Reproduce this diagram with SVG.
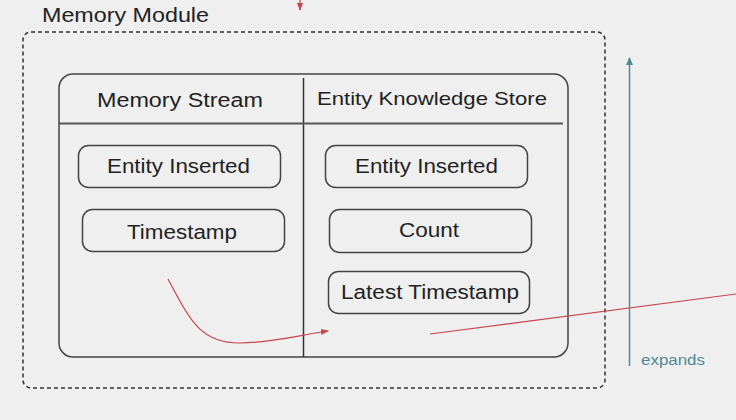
<svg xmlns="http://www.w3.org/2000/svg" width="736" height="420" viewBox="0 0 736 420">
<defs>
<style>
.t{font-family:"Liberation Sans",Arial,sans-serif;fill:#222;font-size:20px;}
.box{fill:none;stroke:#444;stroke-width:1.5;}
.red{fill:none;stroke:#c8464b;stroke-width:1.2;}
</style>
<marker id="ar" markerWidth="8" markerHeight="8" refX="7" refY="4" orient="auto" markerUnits="userSpaceOnUse">
<path d="M0,1 L8,4 L0,7 Z" fill="#c8464b"/>
</marker>
<marker id="at" markerWidth="8" markerHeight="10" refX="7" refY="5" orient="auto" markerUnits="userSpaceOnUse">
<path d="M0,1.5 L8,5 L0,8.5 Z" fill="#4f8a96"/>
</marker>
</defs>
<rect width="736" height="420" fill="#efefef"/>
<g id="module">
<text class="t" x="42" y="22" textLength="167" lengthAdjust="spacingAndGlyphs">Memory Module</text>
<rect x="23" y="32" width="582" height="356" rx="8" fill="none" stroke="#333" stroke-width="1.5" stroke-dasharray="4,3"/>
</g>
<g id="table">
<rect class="box" x="59" y="74" width="509" height="283" rx="14" stroke-width="2"/>
<line x1="303.5" y1="78" x2="303.5" y2="357" stroke="#333" stroke-width="1.5"/>
<line x1="59" y1="123.5" x2="563" y2="123.5" stroke="#555" stroke-width="2"/>
<text class="t" x="97" y="107" textLength="166" lengthAdjust="spacingAndGlyphs">Memory Stream</text>
<text class="t" x="317" y="105" style="font-size:19px" textLength="230" lengthAdjust="spacingAndGlyphs">Entity Knowledge Store</text>
</g>
<g id="ms-entity"><rect class="box" x="78.5" y="145.5" width="202" height="42" rx="10"/><text class="t" x="107" y="173" textLength="143" lengthAdjust="spacingAndGlyphs">Entity Inserted</text></g>
<g id="ms-timestamp"><rect class="box" x="82.5" y="209.5" width="202" height="42" rx="10"/><text class="t" x="127" y="239" textLength="110" lengthAdjust="spacingAndGlyphs">Timestamp</text></g>
<g id="eks-entity"><rect class="box" x="325.5" y="145.5" width="202" height="42" rx="10"/><text class="t" x="355" y="173" textLength="143" lengthAdjust="spacingAndGlyphs">Entity Inserted</text></g>
<g id="eks-count"><rect class="box" x="329.5" y="209.5" width="202" height="43" rx="10"/><text class="t" x="399" y="237" textLength="60" lengthAdjust="spacingAndGlyphs">Count</text></g>
<g id="eks-latest"><rect class="box" x="328.5" y="271.5" width="201" height="42" rx="10"/><text class="t" x="341" y="299" textLength="178" lengthAdjust="spacingAndGlyphs">Latest Timestamp</text></g>
<g id="connectors">
<path class="red" d="M168,279 C190,320 200,343 240,343 C270,343 300,335 328,331" marker-end="url(#ar)"/>
<line class="red" x1="430" y1="334" x2="736" y2="294"/>
<line class="red" x1="300" y1="0" x2="300" y2="10" marker-end="url(#ar)"/>
<line x1="629.5" y1="366" x2="629.5" y2="58" stroke="#4f8a96" stroke-width="1.5" marker-end="url(#at)"/>
<text x="641" y="365" font-size="14" fill="#4f8a96" font-family="Liberation Sans,Arial,sans-serif" textLength="64" lengthAdjust="spacingAndGlyphs">expands</text>
</g>
</svg>
